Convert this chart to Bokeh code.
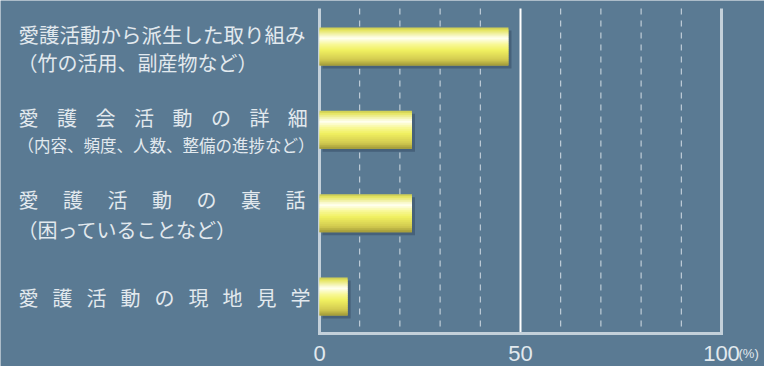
import numpy as np
from bokeh.plotting import figure
from bokeh.models import Range1d
from bokeh.core.properties import value
from bokeh.embed import file_html
from bokeh.resources import INLINE

# ---------------- data ----------------
label_main = ["愛護活動から派生した取り組み", "愛護会活動の詳細", "愛護活動の裏話", "愛護活動の現地見学"]
label_sub = ["（竹の活用、副産物など）", "（内容、頻度、人数、整備の進捗など）", "（困っていることなど）", ""]
values = [47, 23, 23, 7]
minor_ticks = [10, 20, 30, 40, 60, 70, 80, 90]
major_ticks = [0, 50, 100]
tick_labels = ["0", "50", "100"]
unit_label = "(%)"

# ---------------- layout / style ----------------
W, H = 764, 366
KX = 4.02            # px per percent
X0 = 319             # canvas x of 0 %
KY = 83.33           # px per category
Y0 = 46              # canvas y of first category centre
BAR_PX = 38
TOP_PX = 8
AXIS_PX = 333
BG = "#5a7a93"
TXT = "#e2e9ee"
AXC = "#c3d0da"
FONT = value("Noto Sans CJK JP")

x_start = -X0 / KX
x_end = (W - X0) / KX
y_top = -Y0 / KY
y_bot = (H - Y0) / KY
grid_top = (TOP_PX - Y0) / KY
axis_bottom = (AXIS_PX - Y0) / KY

p = figure(width=W, height=H, output_backend="svg", toolbar_location=None,
           x_range=Range1d(x_start, x_end), y_range=Range1d(y_bot, y_top),
           min_border=0)
p.xaxis.visible = False
p.yaxis.visible = False
p.xgrid.visible = False
p.ygrid.visible = False
p.outline_line_color = None
p.background_fill_color = BG
p.border_fill_color = BG

# grid lines
p.segment(x0=minor_ticks, x1=minor_ticks, y0=[grid_top] * len(minor_ticks),
          y1=[axis_bottom] * len(minor_ticks), line_color="#d3dde5",
          line_width=1, line_dash="6 6")
p.segment(x0=[50], x1=[50], y0=[grid_top], y1=[axis_bottom], line_color="#ffffff", line_width=2)
p.segment(x0=[0, 100], x1=[0, 100], y0=[grid_top, grid_top], y1=[axis_bottom, axis_bottom],
          line_color=AXC, line_width=3)
p.segment(x0=[-1.5 / KX], x1=[100 + 1.5 / KX], y0=[axis_bottom], y1=[axis_bottom],
          line_color=AXC, line_width=3)

# bars
idx = np.arange(len(values), dtype=float)
vals = np.array(values, dtype=float)
bar_h = BAR_PX / KY
# shadow
p.hbar(y=idx + 3 / KY, height=bar_h, left=3 / KX, right=vals + 3 / KX,
       fill_color="#46617a", line_color=None)

stops = [(0.00, "#c8c850"), (0.08, "#e6e666"), (0.28, "#fffff2"), (0.45, "#f8f894"),
         (0.60, "#f0f060"), (0.85, "#d2ca50"), (1.00, "#a09838")]


def hex2rgb(h):
    return np.array([int(h[i:i + 2], 16) for i in (1, 3, 5)], dtype=float)


sf = np.array([s[0] for s in stops])
sc = np.array([hex2rgb(s[1]) for s in stops])
n = 19
sh = bar_h / n
ys, hs, rights, cols = [], [], [], []
for k in range(n):
    f = (k + 0.5) / n
    rgb = [np.interp(f, sf, sc[:, c]) for c in range(3)]
    col = "#%02x%02x%02x" % tuple(int(round(v)) for v in rgb)
    # each strip overlaps downward so no hairline gaps appear
    ext = sh if k < n - 1 else 0
    for i in range(len(values)):
        ys.append(idx[i] - bar_h / 2 + k * sh + (sh + ext) / 2)
        hs.append(sh + ext)
        rights.append(vals[i])
        cols.append(col)
p.hbar(y=ys, height=hs, left=0, right=rights, fill_color=cols, line_color=None)

# category labels
gaps = ["", "\u2002\u2009 ", "\u3000 ", "\u2002\u2009"]
main_txt = [g.join(list(t)) for t, g in zip(label_main, gaps)]
main_size = ["20.5px", "20px", "20px", "20px"]
main_off = [-13, -12.5, -13.5, 1.5]
sub_size = ["20px", "16.5px", "20px", "16px"]
sub_off = [16, 15, 16, 0]
for i in range(len(values)):
    p.text(x=[0], y=[idx[i]], text=[main_txt[i]], x_offset=-301, y_offset=main_off[i],
           text_align="left", text_baseline="middle", text_font=FONT,
           text_font_size=main_size[i], text_color=TXT)
    if label_sub[i]:
        p.text(x=[0], y=[idx[i]], text=[label_sub[i]], x_offset=-302, y_offset=sub_off[i],
               text_align="left", text_baseline="middle", text_font=FONT,
               text_font_size=sub_size[i], text_color=TXT)

# x tick labels
p.text(x=major_ticks, y=[axis_bottom] * len(major_ticks), text=tick_labels, y_offset=20,
       text_align="center", text_baseline="middle", text_font=value("Liberation Sans"),
       text_font_size="22px", text_color=TXT)
p.text(x=[major_ticks[-1]], y=[axis_bottom], text=[unit_label], x_offset=17, y_offset=20,
       text_align="left", text_baseline="middle", text_font=value("Liberation Sans"),
       text_font_size="13px", text_color=TXT)

open("out.html", "w").write(file_html(p, INLINE))
